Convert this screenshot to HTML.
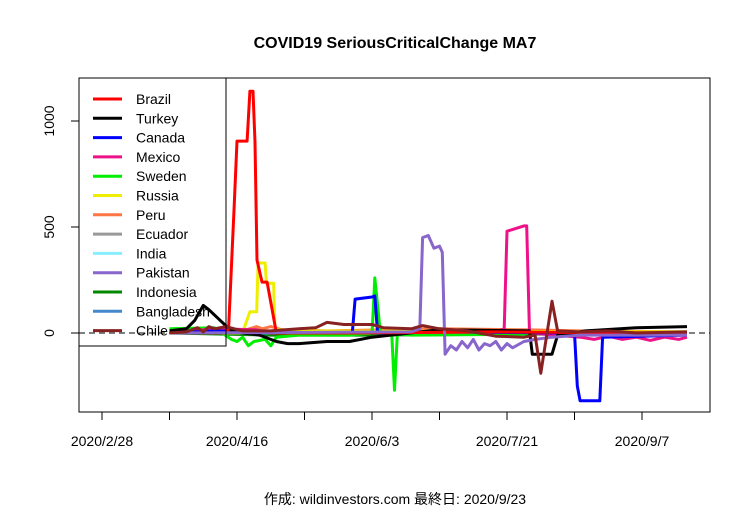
<!DOCTYPE html>
<html><head><meta charset="utf-8"><style>
body{margin:0;background:#fff}
svg text{font-family:"Liberation Sans","Noto Sans CJK JP",sans-serif}
</style></head><body>
<svg id="c" width="750" height="511" xmlns="http://www.w3.org/2000/svg">
<text x="395" y="48" text-anchor="middle" font-size="16" font-weight="bold">COVID19 SeriousCriticalChange MA7</text>
<text x="395" y="504" text-anchor="middle" font-size="14">作成: wildinvestors.com 最終日: 2020/9/23</text>
<g id="plot"></g>
</svg>
<script>
// day offsets from 2020/2/28
const tickDays=[0,24,48,72,96,120,144,168,192];
const tickLabels=["2020/2/28","","2020/4/16","","2020/6/3","","2020/7/21","","2020/9/7"];
const yTicks=[0,500,1000];
const names=["Brazil","Turkey","Canada","Mexico","Sweden","Russia","Peru","Ecuador","India","Pakistan","Indonesia","Bangladesh","Chile"];
const colors=["#ff0000","#000000","#0000ff","#ee1188","#00ee00","#eeee00","#ff7744","#999999","#88eeff","#8866cc","#008800","#4488cc","#882222"];
const brazilD=[24,44,45,47,48,51.6,52.6,53.7,54.4,55.1,56.9,58.7,62,90,140,208];
const brazilV=[0,0,20,600,905,905,1140,1140,900,344,240,240,0,0,5,0];
const turkeyD=[24,30,33,36,38,42,46,50,56,62,66,70,80,88,96,120,152,153,160,162,172,190,208];
const turkeyV=[10,20,60,130,110,60,10,0,-10,-40,-50,-50,-40,-40,-20,15,10,-100,-100,-10,10,25,30];
const canadaD=[24,40,55,80,89,90,96,97,98,120,168,169,170,177,178,208];
const canadaV=[0,10,5,0,0,160,170,175,0,5,0,-250,-320,-320,-20,-10];
const mexicoD=[24,40,55,60,140,143,144,150,151,152,170,175,180,185,190,195,200,205,208];
const mexicoV=[0,20,15,0,5,20,480,505,505,0,-20,-30,-15,-30,-20,-35,-20,-30,-20];
const swedenD=[24,40,46,48,50,52,54,58,60,62,70,88,96,96.5,97,99,103,104,105,106,110,208];
const swedenV=[20,25,-30,-40,-20,-60,-40,-30,-60,-20,-10,-10,0,120,260,0,0,-270,-10,-5,-10,0];
const russiaD=[24,50,51,52.6,55,55.5,58,58.5,61,61.5,66,208];
const russiaV=[0,0,40,100,100,330,330,235,235,20,10,5];
const peruD=[24,50,55,57,60,64,80,120,150,170,208];
const peruV=[0,10,30,20,30,15,10,20,15,10,5];
const ecuadorD=[24,60,130,140,160,208];
const ecuadorV=[0,0,5,10,5,0];
const indiaD=[24,208];
const indiaV=[5,5];
const pakistanD=[24,110,113,114,116,118,120,121,122,124,126,128,130,132,134,136,138,140,142,144,146,150,154,160,170,208];
const pakistanV=[0,5,20,450,460,400,410,380,-100,-60,-80,-40,-70,-30,-80,-50,-60,-40,-80,-50,-70,-40,-30,-20,-10,-10];
const indonesiaD=[24,60,96,208];
const indonesiaV=[0,-10,-10,0];
const bangladeshD=[24,208];
const bangladeshV=[0,0];
const chileD=[24,30,34,36,38,40,44,50,60,70,76,80,86,96,100,110,114,120,130,140,150,154,156,158,160,162,170,180,190,208];
const chileV=[0,5,25,5,30,20,30,10,10,20,25,50,40,40,25,20,35,20,10,-15,-20,-10,-190,-20,150,10,5,10,0,5];
const seriesD=[brazilD,turkeyD,canadaD,mexicoD,swedenD,russiaD,peruD,ecuadorD,indiaD,pakistanD,indonesiaD,bangladeshD,chileD];
const seriesV=[brazilV,turkeyV,canadaV,mexicoV,swedenV,russiaV,peruV,ecuadorV,indiaV,pakistanV,indonesiaV,bangladeshV,chileV];
const drawOrder=[7,8,10,11,6,5,4,3,2,1,0,9,12];

const NS="http://www.w3.org/2000/svg";
const L=79,R=710,T=78,B=412;
const x=d=>102+d*2.8125;
const y=v=>333-v*0.212;
const g=document.getElementById('plot');
function mk(t,a){const e=document.createElementNS(NS,t);for(const k in a)e.setAttribute(k,a[k]);g.appendChild(e);return e;}
let e=mk('line',{x1:L,x2:R,y1:y(0),y2:y(0),stroke:'#000','stroke-dasharray':'6,4'});


drawOrder.forEach(i=>{
  const p=seriesD[i].map((d,j)=>x(d).toFixed(1)+','+y(seriesV[i][j]).toFixed(1)).join(' ');
  const pl=mk('polyline',{points:p,fill:'none',stroke:colors[i],'stroke-width':3,'stroke-linejoin':'round'});
  
  
});
e=mk('rect',{x:L,y:T,width:R-L,height:B-T,fill:'none',stroke:'#000'});


tickDays.forEach((d,i)=>{
  const t=mk('line',{x1:x(d),x2:x(d),y1:B,y2:B+8,stroke:'#000'});
  
  
  if(tickLabels[i]){const tx=mk('text',{x:x(d),y:446,'text-anchor':'middle','font-size':14});tx.textContent=tickLabels[i];
  
  }
});
yTicks.forEach(v=>{
  const t=mk('line',{x1:L-8,x2:L,y1:y(v),y2:y(v),stroke:'#000'});
  
  
  const tx=mk('text',{x:0,y:0,'text-anchor':'middle','font-size':14,transform:`translate(54,${y(v)}) rotate(-90)`});
  tx.textContent=v;
  
  
});
e=mk('rect',{x:L,y:T,width:147,height:268,fill:'none',stroke:'#000'});


names.forEach((n,i)=>{
  const yy=99+i*19.3;
  const ln=mk('line',{x1:93,x2:122,y1:yy,y2:yy,stroke:colors[i],'stroke-width':3});
  
  
  const tx=mk('text',{x:136,y:yy+5,'font-size':14});tx.textContent=n;
  
  
});
</script>
</body></html>
